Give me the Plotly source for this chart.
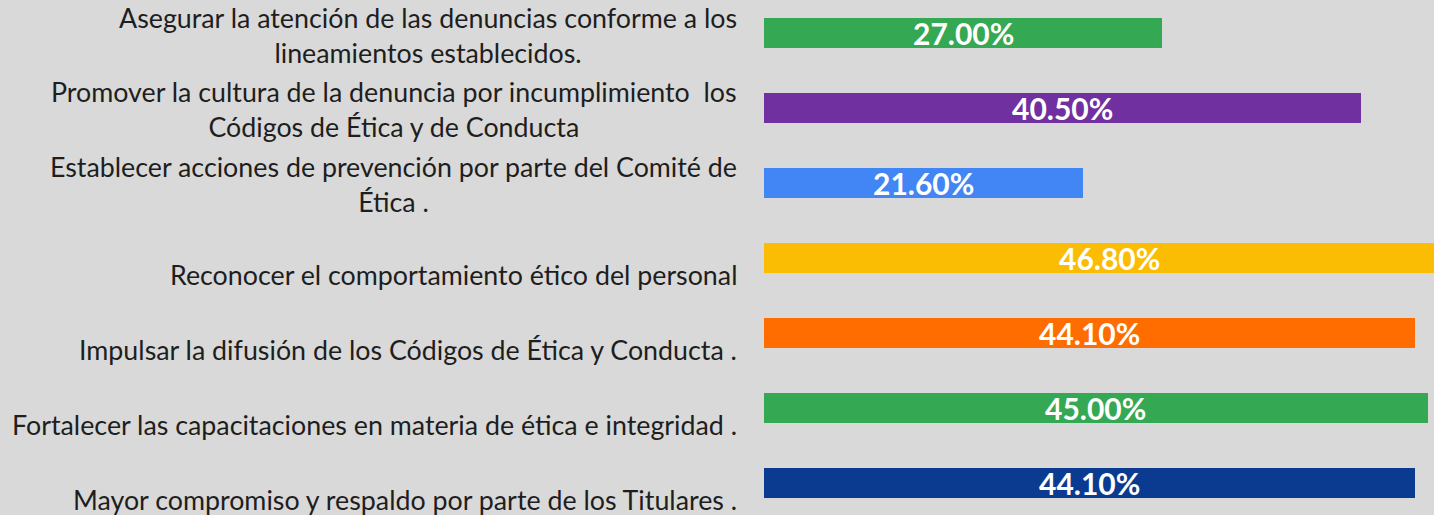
import plotly.graph_objects as go

# Categories (top to bottom), values in percent, and bar colours
categories = [
    "Asegurar la atención de las denuncias conforme a los<br>lineamientos establecidos.",
    "Promover la cultura de la denuncia por incumplimiento  los<br>Códigos de Ética y de Conducta",
    "Establecer acciones de prevención por parte del Comité de<br>Ética .",
    "Reconocer el comportamiento ético del personal",
    "Impulsar la difusión de los Códigos de Ética y Conducta .",
    "Fortalecer las capacitaciones en materia de ética e integridad .",
    "Mayor compromiso y respaldo por parte de los Titulares .",
]
values = [27.0, 40.5, 21.6, 46.8, 44.1, 45.0, 44.1]
colors = ["#34a853", "#7030a0", "#4285f4", "#fbbc04", "#ff6d01", "#34a853", "#0b3b91"]

positions = list(range(len(categories)))

fig = go.Figure(
    go.Bar(
        x=values,
        y=positions,
        orientation="h",
        width=0.4,
        marker=dict(color=colors, line=dict(width=0)),
        hoverinfo="skip",
    )
)

annotations = []
for pos, label, val in zip(positions, categories, values):
    single = "<br>" not in label
    # category label: block right-aligned next to the bars, lines centred inside it;
    # one-line labels sit on the lower line of a two-line slot
    annotations.append(dict(
        x=0, xref="paper", xanchor="right", xshift=-25,
        y=pos, yref="y", yanchor="middle", yshift=-17 if single else -2,
        text=label, align="center", showarrow=False,
        font=dict(family="Lato, sans-serif", size=26.8, color="#1e1e1e"),
    ))
    # value label centred in the bar
    annotations.append(dict(
        x=val / 2, xref="x", xanchor="center",
        y=pos, yref="y", yanchor="middle",
        text=f"<b>{val:.2f}%</b>", showarrow=False,
        font=dict(family="Lato, sans-serif", size=30, color="#ffffff"),
    ))

fig.update_layout(
    width=1434,
    height=515,
    margin=dict(l=764, r=0, t=0, b=0),
    paper_bgcolor="#d9d9d9",
    plot_bgcolor="#d9d9d9",
    showlegend=False,
    bargap=0,
    xaxis=dict(range=[0, 45.42], visible=False, fixedrange=True),
    yaxis=dict(range=[6.427, -0.44], visible=False, fixedrange=True),
    annotations=annotations,
)

fig.write_html("out.html", config={"displayModeBar": False})
